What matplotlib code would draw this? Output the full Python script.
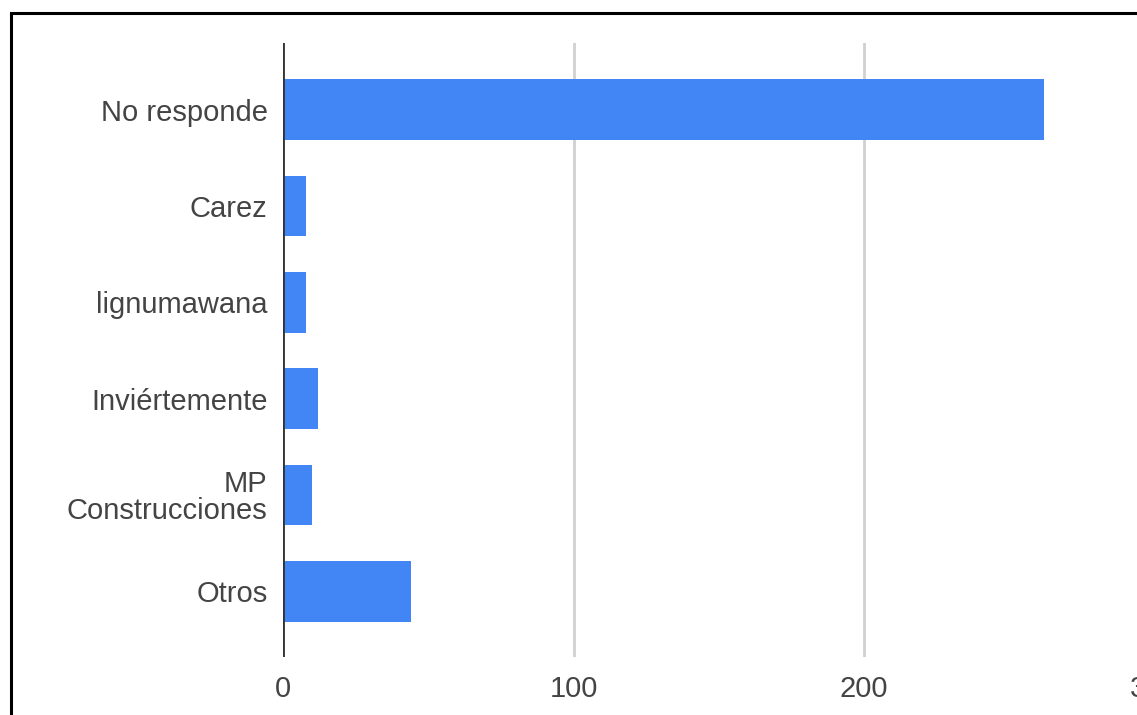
import matplotlib.pyplot as plt
from matplotlib.patches import Rectangle

categories = ['No responde', 'Carez', 'lignumawana', 'Inviértemente',
              'MP\nConstrucciones', 'Otros']
values = [262, 8, 8, 12, 10, 44]
xticks = [0, 100, 200, 300]

plt.rcParams['font.family'] = ['Liberation Sans', 'DejaVu Sans']

fig = plt.figure(figsize=(11.37, 7.15), dpi=100)
ax = fig.add_axes([283/1137, 1-657/715, (1154.5-283)/1137, (657-43)/715])

ypos = list(range(len(categories)))
ax.barh(ypos, values, height=0.63, color='#4285F4', zorder=3)

ax.set_xlim(0, 300)
ax.set_ylim(len(categories) - 0.32, -0.69)
ax.set_xticks(xticks)
ax.set_yticks(ypos)
ax.set_yticklabels(categories, linespacing=0.95)
ax.tick_params(axis='both', length=0, labelsize=21, labelcolor='#444444')
ax.tick_params(axis='y', pad=11)
ax.tick_params(axis='x', pad=13)

for s in ax.spines.values():
    s.set_visible(False)
ax.grid(axis='x', color='#d0d0d0', linewidth=2, zorder=0)
ax.axvline(0, color='#333333', linewidth=2, zorder=4)

# frame around the screenshot, cut off at right and bottom
fig.patches.append(Rectangle((11/1137, -0.1), 1.2, 1 - 13/715 + 0.1,
                             transform=fig.transFigure, fill=False,
                             edgecolor='black', linewidth=2.2))

fig.savefig('out.png', dpi=100)
